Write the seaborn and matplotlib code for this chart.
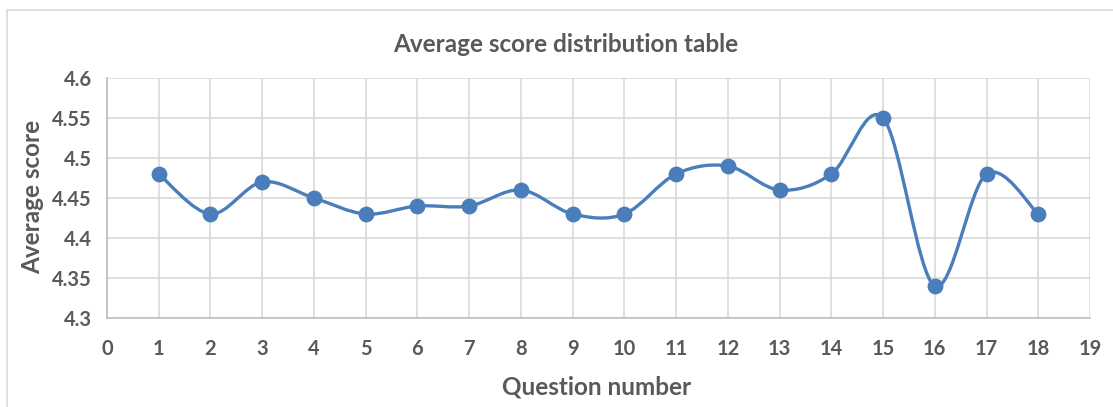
import matplotlib
matplotlib.use("Agg")
import matplotlib.pyplot as plt
from matplotlib.path import Path
from matplotlib.patches import PathPatch, Rectangle
import pandas as pd
import seaborn as sns

questions = list(range(1, 19))
avg_scores = [4.48, 4.43, 4.47, 4.45, 4.43, 4.44, 4.44, 4.46, 4.43,
              4.43, 4.48, 4.49, 4.46, 4.48, 4.55, 4.34, 4.48, 4.43]
x_ticks = list(range(0, 20))
y_ticks = [4.3, 4.35, 4.4, 4.45, 4.5, 4.55, 4.6]

sns.set_style("white")
plt.rcParams['font.family'] = ['Lato', 'DejaVu Sans']

text_col = '#595959'
line_col = '#4A7EBB'

df = pd.DataFrame({'Question number': questions, 'Average score': avg_scores})

W, H = 1113, 407
fig = plt.figure(figsize=(W / 100, H / 100), dpi=100)
ax = fig.add_axes([107 / W, 1 - 318 / H, (1090 - 107) / W, (318 - 78) / H])

# outer chart border
fig.patches.append(Rectangle((7 / W, -0.02), 1.0, 1 - 10 / H + 0.02,
                             transform=fig.transFigure, fill=False,
                             edgecolor='#d9d9d9', linewidth=1.2))


def smooth_path(xs, ys):
    """Bezier path through the points (Excel-style smoothed line)."""
    pts = list(zip(xs, ys))
    verts = [pts[0]]
    codes = [Path.MOVETO]
    n = len(pts)
    for i in range(n - 1):
        p0 = pts[i - 1] if i > 0 else pts[i]
        p1 = pts[i]
        p2 = pts[i + 1]
        p3 = pts[i + 2] if i + 2 < n else pts[i + 1]
        c1 = (p1[0] + (p2[0] - p0[0]) / 6, p1[1] + (p2[1] - p0[1]) / 6)
        c2 = (p2[0] - (p3[0] - p1[0]) / 6, p2[1] - (p3[1] - p1[1]) / 6)
        verts += [c1, c2, p2]
        codes += [Path.CURVE4] * 3
    return Path(verts, codes)


ax.add_patch(PathPatch(smooth_path(questions, avg_scores), fill=False,
                       edgecolor=line_col, linewidth=2.4, zorder=3))
sns.scatterplot(data=df, x='Question number', y='Average score', ax=ax,
                color=line_col, s=130, edgecolor=line_col, linewidth=0, zorder=4)

ax.set_xlim(0, 19)
ax.set_ylim(4.3, 4.6)
ax.set_xticks(x_ticks)
ax.set_yticks(y_ticks)
ax.set_yticklabels([f'{v:g}' for v in y_ticks])
ax.grid(True, color='#d9d9d9', linewidth=1.2)
ax.set_axisbelow(True)
for side in ['top', 'right']:
    ax.spines[side].set_visible(False)
for side in ['left', 'bottom']:
    ax.spines[side].set_color('#bfbfbf')
    ax.spines[side].set_linewidth(1.2)
ax.tick_params(length=0, labelsize=14.5, labelcolor=text_col)
ax.tick_params(axis='x', pad=15)
ax.tick_params(axis='y', pad=11)
for lab in ax.get_xticklabels() + ax.get_yticklabels():
    lab.set_fontweight('bold')

ax.set_xlabel('')
ax.set_ylabel('')
fig.text(597 / W, 1 - 387 / H, 'Question number', ha='center', va='center',
         fontsize=17.5, fontweight='bold', color=text_col)
fig.text(33 / W, 1 - 197 / H, 'Average score', ha='center', va='center', rotation=90,
         fontsize=17.5, fontweight='bold', color=text_col)
fig.text(566 / W, 1 - 45 / H, 'Average score distribution table', ha='center', va='center',
         fontsize=17.5, fontweight='bold', color=text_col)

fig.savefig('out.png', dpi=100)
